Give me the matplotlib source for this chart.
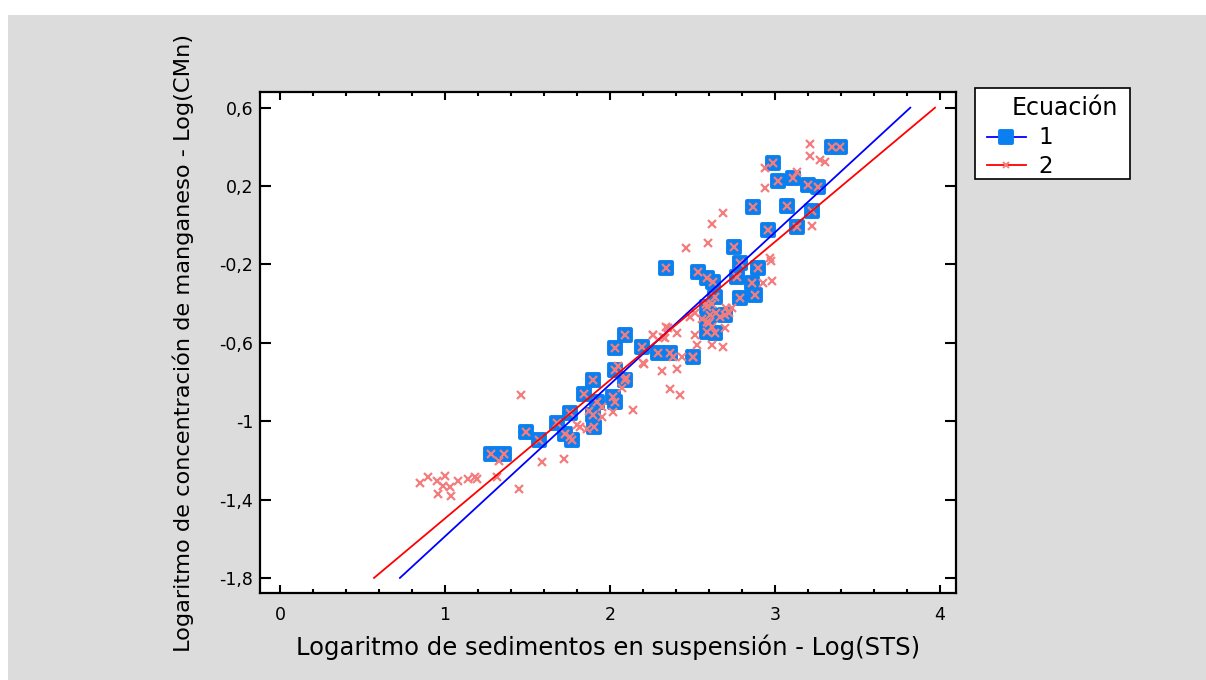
import matplotlib

matplotlib.use("Agg")
import matplotlib.pyplot as plt
from matplotlib.lines import Line2D
from matplotlib.markers import MarkerStyle
from matplotlib.patches import Rectangle
from matplotlib.ticker import FuncFormatter, MultipleLocator

plt.rcParams["font.family"] = ["DejaVu Sans"]

# series 1 (blue squares)
s1_x = [1.277, 1.358, 1.491, 1.572, 1.677, 1.73, 1.758, 1.768, 1.843, 1.899, 1.899, 1.919,
        1.905, 2.03, 2.091, 2.192, 2.293, 2.364, 2.03, 2.091, 2.02, 2.03, 2.505, 2.339,
        2.535, 2.586, 2.626, 2.752, 2.788, 2.899, 2.768, 2.859, 2.879, 2.788, 2.636, 2.586,
        2.606, 2.586, 2.697, 2.586, 2.636, 2.869, 3.071, 2.96, 3.131, 3.343, 3.394, 2.99,
        3.02, 3.111, 3.202, 3.262, 3.222]
s1_y = [-1.168, -1.168, -1.054, -1.096, -1.011, -1.065, -0.96, -1.096, -0.86, -0.79, -0.969, -0.9,
        -1.028, -0.628, -0.56, -0.62, -0.654, -0.654, -0.739, -0.79, -0.875, -0.9, -0.671, -0.22,
        -0.237, -0.271, -0.288, -0.11, -0.194, -0.22, -0.262, -0.296, -0.356, -0.373, -0.365, -0.416,
        -0.458, -0.492, -0.458, -0.543, -0.552, 0.095, 0.1, -0.024, -0.01, 0.401, 0.401, 0.316,
        0.226, 0.24, 0.205, 0.197, 0.074]

# series 2 (crosses)
s2_x = [0.848, 0.899, 0.949, 1.0, 0.99, 1.03, 1.081, 0.955, 1.035, 1.141, 1.182, 1.196,
        1.317, 1.449, 1.586, 1.721, 1.33, 1.459, 1.798, 1.758, 1.82, 1.86, 1.95, 2.02,
        2.137, 2.206, 2.313, 2.404, 2.364, 2.424, 2.259, 2.323, 2.404, 2.339, 2.515, 2.434,
        2.384, 2.505, 2.202, 2.263, 2.354, 2.333, 2.687, 2.616, 2.596, 2.459, 2.974, 2.983,
        2.925, 2.703, 2.697, 2.687, 2.616, 2.525, 2.485, 2.515, 2.667, 3.212, 3.212, 3.273,
        3.303, 2.939, 2.939, 3.131, 3.222, 2.97, 2.05, 2.07, 1.87, 1.95, 2.1, 2.56,
        2.6, 2.62, 2.58, 2.64, 2.72, 2.74, 2.62]
s2_y = [-1.314, -1.287, -1.304, -1.28, -1.331, -1.335, -1.304, -1.372, -1.382, -1.295, -1.287, -1.297,
        -1.284, -1.347, -1.207, -1.192, -1.205, -0.865, -1.02, -1.079, -1.03, -1.04, -0.93, -0.952,
        -0.943, -0.708, -0.742, -0.735, -0.837, -0.866, -0.56, -0.569, -0.552, -0.518, -0.56, -0.671,
        -0.671, -0.671, -0.705, -0.56, -0.526, -0.577, 0.064, 0.006, -0.089, -0.115, -0.182, -0.285,
        -0.293, -0.424, -0.526, -0.62, -0.611, -0.611, -0.467, -0.45, -0.467, 0.415, 0.353, 0.333,
        0.324, 0.291, 0.189, 0.273, -0.004, -0.169, -0.72, -0.83, -0.95, -0.98, -0.78, -0.48,
        -0.5, -0.52, -0.4, -0.45, -0.45, -0.42, -0.4]

# fitted lines
fit1_x = [0.727, 3.82]
fit1_y = [-1.8, 0.6]
fit2_x = [0.57, 3.97]
fit2_y = [-1.8, 0.6]

series_labels = ["1", "2"]
legend_title = "Ecuación"

BLUE_MARK = "#0a80f0"
CROSS = "#f47c7c"
W, H = 1206, 680


def fx(px):
    return px / W


def fy(py):
    return 1 - py / H


fig = plt.figure(figsize=(12.06, 6.8), dpi=100)
fig.patch.set_facecolor("white")
fig.patches.append(Rectangle((fx(8), 0), 1, fy(15), transform=fig.transFigure,
                             facecolor="#dcdcdc", edgecolor="none", zorder=-10))

ax = fig.add_axes([fx(260), fy(593), fx(696), 501 / H])
ax.set_facecolor("white")

square = MarkerStyle("s", joinstyle="round")
ax.plot(s1_x, s1_y, linestyle="none", marker=square, markersize=8, markerfacecolor=BLUE_MARK,
        markeredgecolor=BLUE_MARK, markeredgewidth=2.8, zorder=2)
ax.plot(s1_x, s1_y, linestyle="none", marker="x", markersize=6, color=CROSS,
        markeredgewidth=1.6, zorder=3)
ax.plot(s2_x, s2_y, linestyle="none", marker="x", markersize=6, color=CROSS,
        markeredgewidth=1.6, zorder=3)
ax.plot(fit1_x, fit1_y, color="#0000ff", linewidth=1.3, zorder=4)
ax.plot(fit2_x, fit2_y, color="#ff0000", linewidth=1.3, zorder=4)

ax.set_xlim(-0.121, 4.097)
ax.set_ylim(-1.877, 0.68)
ax.xaxis.set_major_locator(MultipleLocator(1))
ax.xaxis.set_minor_locator(MultipleLocator(0.2))
ax.set_yticks([-1.8, -1.4, -1.0, -0.6, -0.2, 0.2, 0.6])
fmt = FuncFormatter(lambda v, pos: ("%g" % round(v, 2)).replace(".", ","))
ax.xaxis.set_major_formatter(fmt)
ax.yaxis.set_major_formatter(fmt)
ax.tick_params(which="both", direction="in", top=True, right=True, labelsize=12.5, width=1.5)
ax.xaxis.set_tick_params(which="major", length=6, pad=9)
ax.xaxis.set_tick_params(which="minor", length=3)
ax.yaxis.set_tick_params(which="major", length=8, pad=5)
for sp in ax.spines.values():
    sp.set_linewidth(1.6)

ax.set_xlabel("Logaritmo de sedimentos en suspensión - Log(STS)", fontsize=17.5, labelpad=8)
ax.set_ylabel("Logaritmo de concentración de manganeso - Log(CMn)", fontsize=16.2, labelpad=18)

# legend box drawn by hand so its layout follows the reference
fig.add_artist(Rectangle((fx(975), fy(179)), fx(155), 91 / H, transform=fig.transFigure,
                         facecolor="white", edgecolor="black", linewidth=1.2))
fig.text(fx(1065), fy(115), legend_title, fontsize=17, ha="center", va="baseline")
fig.add_artist(Line2D([fx(987), fx(1026)], [fy(137), fy(137)], transform=fig.transFigure,
                      color="#0000ff", linewidth=1.3))
fig.add_artist(Line2D([fx(1006.5)], [fy(137)], transform=fig.transFigure, linestyle="none",
                      marker=square, markersize=8, markerfacecolor=BLUE_MARK,
                      markeredgecolor=BLUE_MARK, markeredgewidth=2.8))
fig.add_artist(Line2D([fx(987), fx(1026)], [fy(165), fy(165)], transform=fig.transFigure,
                      color="#ff0000", linewidth=1.3))
fig.add_artist(Line2D([fx(1006.5)], [fy(165)], transform=fig.transFigure, linestyle="none",
                      marker="x", markersize=4, markeredgecolor=CROSS, markeredgewidth=1.4))
fig.text(fx(1038), fy(144), series_labels[0], fontsize=16.5, ha="left", va="baseline")
fig.text(fx(1038), fy(173), series_labels[1], fontsize=16.5, ha="left", va="baseline")

fig.savefig("out.png", dpi=100)
